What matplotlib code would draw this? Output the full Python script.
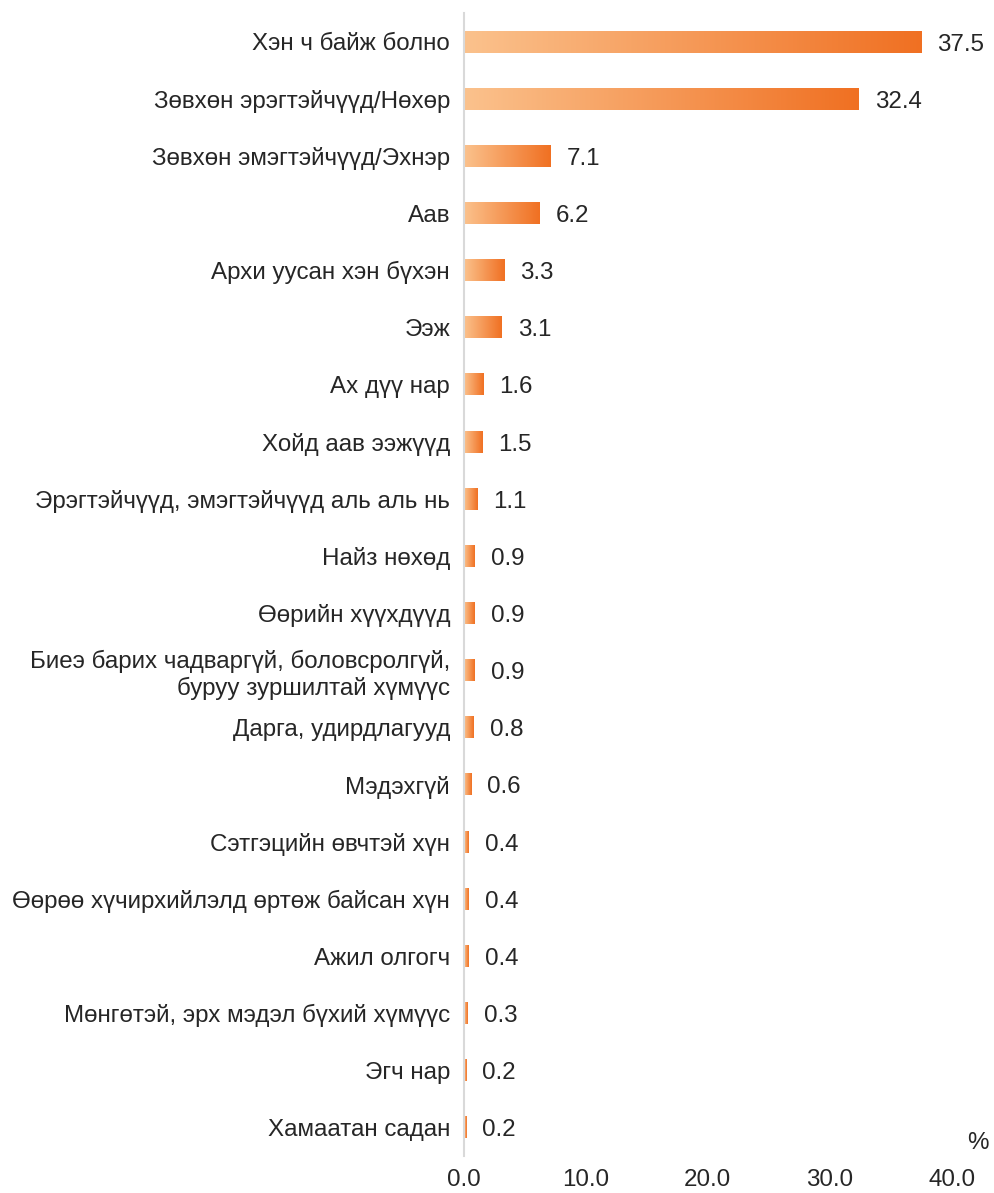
import numpy as np
import matplotlib.pyplot as plt
from matplotlib.colors import LinearSegmentedColormap

plt.rcParams['font.family'] = ['Liberation Sans', 'DejaVu Sans']

categories = [
    'Хэн ч байж болно',
    'Зөвхөн эрэгтэйчүүд/Нөхөр',
    'Зөвхөн эмэгтэйчүүд/Эхнэр',
    'Аав',
    'Архи уусан хэн бүхэн',
    'Ээж',
    'Ах дүү нар',
    'Хойд аав ээжүүд',
    'Эрэгтэйчүүд, эмэгтэйчүүд аль аль нь',
    'Найз нөхөд',
    'Өөрийн хүүхдүүд',
    'Биеэ барих чадваргүй, боловсролгүй,\nбуруу зуршилтай хүмүүс',
    'Дарга, удирдлагууд',
    'Мэдэхгүй',
    'Сэтгэцийн өвчтэй хүн',
    'Өөрөө хүчирхийлэлд өртөж байсан хүн',
    'Ажил олгогч',
    'Мөнгөтэй, эрх мэдэл бүхий хүмүүс',
    'Эгч нар',
    'Хамаатан садан',
]
values = [37.5, 32.4, 7.1, 6.2, 3.3, 3.1, 1.6, 1.5, 1.1, 0.9, 0.9, 0.9, 0.8, 0.6,
          0.4, 0.4, 0.4, 0.3, 0.2, 0.2]
xticks = [0, 10, 20, 30, 40]

cmap = LinearSegmentedColormap.from_list('org', ['#FBC28D', '#F07022'])
grad = np.linspace(0, 1, 256).reshape(1, -1)

fig = plt.figure(figsize=(9.94, 11.93), dpi=100)
ax = fig.add_axes([0.4668, 0.031, 0.4905, 0.958])

h = 0.38
for i, v in enumerate(values):
    ax.imshow(grad, extent=[0, v, i + h / 2, i - h / 2], cmap=cmap,
              aspect='auto', interpolation='bicubic', zorder=2)
    ax.text(v + 1.3, i + 0.05, f'{v:.1f}', va='center', ha='left', fontsize=17.4,
            color='#262626')

ax.set_xlim(0, 40)
ax.set_ylim(len(values) - 0.5, -0.5)
ax.set_yticks(range(len(values)))
ax.set_yticklabels(categories, fontsize=17.4, color='#262626')
ax.set_xticks(xticks)
ax.set_xticklabels([f'{t:.1f}' for t in xticks], fontsize=17.4, color='#262626')
ax.tick_params(length=0)
ax.tick_params(axis='y', pad=10)
ax.tick_params(axis='x', pad=9)
for s in ['top', 'right', 'bottom']:
    ax.spines[s].set_visible(False)
ax.spines['left'].set_color('#D9D9D9')
ax.spines['left'].set_linewidth(1.5)

fig.text(0.995, 0.042, '%', fontsize=17.4, color='#262626', ha='right', va='center')

fig.savefig('out.png', dpi=100)
